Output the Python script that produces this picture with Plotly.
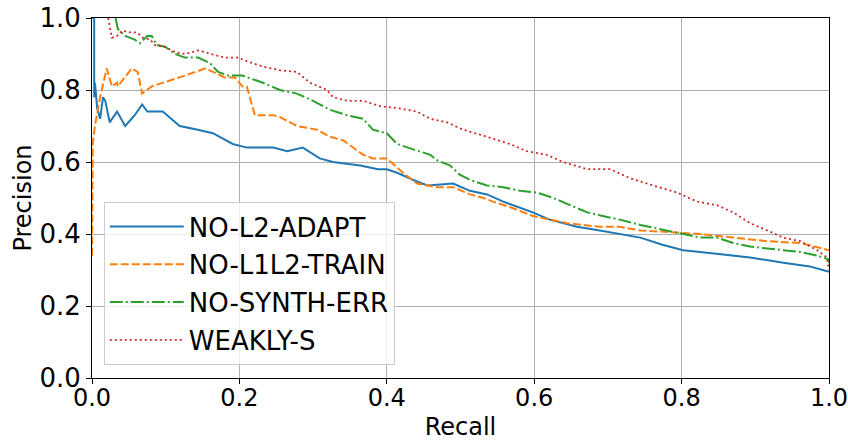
import plotly.graph_objects as go

# NO-L2-ADAPT
blue_recall = [0.0, 0.003, 0.003, 0.004, 0.007, 0.011, 0.015, 0.018, 0.024, 0.034, 0.045, 0.058, 0.068, 0.075,
               0.096, 0.119, 0.142, 0.164, 0.191, 0.210, 0.246, 0.265, 0.286, 0.309, 0.327, 0.364, 0.388,
               0.400, 0.414, 0.436, 0.455, 0.490, 0.513, 0.536, 0.558, 0.585, 0.598, 0.621, 0.658, 0.689,
               0.716, 0.744, 0.774, 0.802, 0.825, 0.848, 0.870, 0.893, 0.938, 0.974, 1.0]
blue_precision = [1.0, 1.0, 0.78, 0.82, 0.75, 0.72, 0.78, 0.77, 0.71, 0.74, 0.70, 0.73, 0.76, 0.74,
                  0.74, 0.70, 0.69, 0.68, 0.65, 0.64, 0.64, 0.63, 0.64, 0.61, 0.60, 0.59, 0.58,
                  0.58, 0.57, 0.55, 0.535, 0.54, 0.52, 0.51, 0.49, 0.47, 0.46, 0.44, 0.42, 0.41,
                  0.40, 0.39, 0.37, 0.355, 0.35, 0.345, 0.34, 0.335, 0.32, 0.31, 0.295]

# NO-L1L2-TRAIN
orange_recall = [0.0, 0.001, 0.001, 0.004, 0.011, 0.020, 0.027, 0.034, 0.035, 0.054, 0.062, 0.068, 0.081,
                 0.126, 0.154, 0.180, 0.194, 0.204, 0.210, 0.221, 0.246, 0.255, 0.278, 0.305, 0.323, 0.341,
                 0.368, 0.381, 0.400, 0.422, 0.441, 0.468, 0.490, 0.513, 0.531, 0.544, 0.567, 0.598, 0.645,
                 0.689, 0.716, 0.744, 0.780, 0.825, 0.870, 0.916, 0.961, 0.988, 1.0]
orange_precision = [0.34, 0.55, 0.65, 0.70, 0.78, 0.86, 0.81, 0.82, 0.81, 0.86, 0.85, 0.79, 0.81,
                    0.84, 0.86, 0.835, 0.835, 0.81, 0.81, 0.73, 0.73, 0.725, 0.70, 0.69, 0.67, 0.66,
                    0.62, 0.61, 0.61, 0.57, 0.54, 0.53, 0.53, 0.51, 0.50, 0.49, 0.475, 0.45, 0.43,
                    0.42, 0.42, 0.41, 0.405, 0.40, 0.39, 0.38, 0.375, 0.36, 0.355]

# NO-SYNTH-ERR
green_recall = [0.032, 0.035, 0.045, 0.058, 0.065, 0.075, 0.081, 0.088, 0.099, 0.113, 0.126, 0.144, 0.160,
                0.171, 0.185, 0.204, 0.232, 0.255, 0.278, 0.300, 0.323, 0.346, 0.368, 0.381, 0.400, 0.414,
                0.436, 0.459, 0.468, 0.486, 0.499, 0.513, 0.536, 0.558, 0.581, 0.604, 0.626, 0.649, 0.672,
                0.693, 0.716, 0.744, 0.780, 0.802, 0.825, 0.848, 0.870, 0.893, 0.916, 0.938, 0.961, 0.984,
                0.999, 1.0]
green_precision = [1.0, 0.97, 0.95, 0.94, 0.93, 0.95, 0.95, 0.925, 0.92, 0.90, 0.89, 0.89, 0.875,
                   0.85, 0.84, 0.84, 0.82, 0.80, 0.79, 0.77, 0.745, 0.73, 0.72, 0.69, 0.68, 0.65,
                   0.635, 0.62, 0.605, 0.59, 0.565, 0.55, 0.535, 0.53, 0.52, 0.515, 0.50, 0.48, 0.46,
                   0.45, 0.44, 0.425, 0.41, 0.40, 0.39, 0.39, 0.375, 0.365, 0.36, 0.355, 0.35, 0.34,
                   0.33, 0.32]

# WEAKLY-S
red_recall = [0.022, 0.027, 0.034, 0.041, 0.052, 0.061, 0.069, 0.079, 0.085, 0.099, 0.113, 0.126, 0.144,
              0.163, 0.180, 0.198, 0.210, 0.232, 0.255, 0.278, 0.296, 0.319, 0.327, 0.346, 0.368, 0.391,
              0.414, 0.441, 0.459, 0.482, 0.503, 0.536, 0.567, 0.590, 0.617, 0.639, 0.672, 0.703, 0.730,
              0.761, 0.794, 0.821, 0.848, 0.870, 0.893, 0.916, 0.938, 0.961, 0.984, 0.997, 1.0]
red_precision = [1.0, 0.945, 0.95, 0.965, 0.96, 0.96, 0.945, 0.94, 0.925, 0.92, 0.905, 0.90, 0.91,
                 0.90, 0.89, 0.89, 0.88, 0.865, 0.855, 0.85, 0.82, 0.80, 0.78, 0.77, 0.77, 0.755,
                 0.75, 0.74, 0.72, 0.71, 0.69, 0.67, 0.65, 0.63, 0.62, 0.60, 0.58, 0.58, 0.555,
                 0.535, 0.515, 0.49, 0.48, 0.46, 0.43, 0.41, 0.39, 0.38, 0.355, 0.335, 0.30]

tick_vals = [0.0, 0.2, 0.4, 0.6, 0.8, 1.0]
tick_text = ["0.0", "0.2", "0.4", "0.6", "0.8", "1.0"]

series = [
    ("NO-L2-ADAPT", blue_recall, blue_precision, "#1f77b4", "solid", 2),
    ("NO-L1L2-TRAIN", orange_recall, orange_precision, "#ff7f0e", "8px,3px", 2),
    ("NO-SYNTH-ERR", green_recall, green_precision, "#2ca02c", "13px,3px,2px,3px", 2),
    ("WEAKLY-S", red_recall, red_precision, "#d62728", "2px,3px", 1.8),
]

fig = go.Figure()
for name, xs, ys, color, dash, w in series:
    fig.add_trace(go.Scatter(x=xs, y=ys, mode="lines", name=name, legendgroup=name,
                             line=dict(color=color, dash=dash, width=w)))

ytick_font = dict(family="DejaVu Sans", size=26, color="black")
xtick_font = dict(family="DejaVu Sans", size=24, color="black")
title_font = dict(family="DejaVu Sans", size=24, color="black")
axis_common = dict(range=[0, 1], tickvals=tick_vals, ticktext=tick_text,
                   showgrid=True, gridcolor="#b0b0b0", gridwidth=1,
                   showline=True, linecolor="black", linewidth=1, mirror=True,
                   ticks="outside", ticklen=5, tickcolor="black",
                   zeroline=False, automargin=False,
                   ticklabeloverflow="allow")

fig.update_layout(
    width=848, height=441,
    margin=dict(l=92, r=19, t=18, b=63),
    paper_bgcolor="white", plot_bgcolor="white",
    font=ytick_font,
    showlegend=True,
    legend=dict(x=0.016, y=0.036, xanchor="left", yanchor="bottom",
                bgcolor="rgba(255,255,255,0.8)", bordercolor="#cccccc", borderwidth=1,
                font=dict(family="DejaVu Sans", size=26, color="black"),
                itemwidth=74, tracegroupgap=1),
)
fig.update_xaxes(title=dict(text="Recall", font=title_font, standoff=8),
                 tickfont=xtick_font, ticklabelstandoff=-7, **axis_common)
fig.update_yaxes(title=dict(text="Precision", font=title_font, standoff=1),
                 tickfont=ytick_font, **axis_common)

fig.write_html("out.html", config={"displayModeBar": False},
               post_script="document.body.style.margin='0px';")
